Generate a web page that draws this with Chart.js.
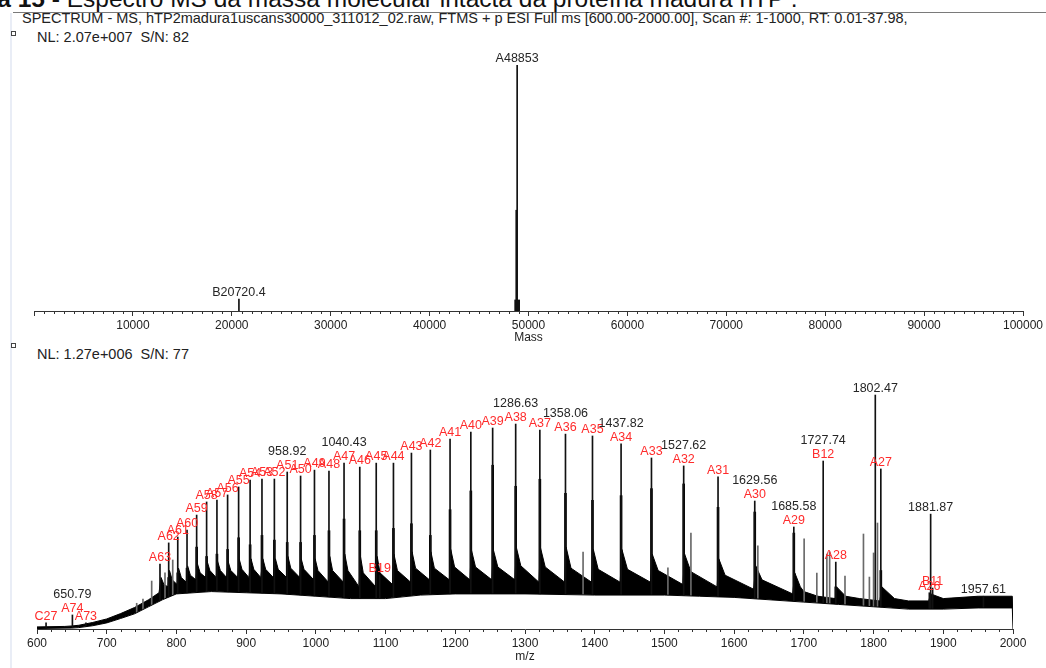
<!DOCTYPE html>
<html>
<head>
<meta charset="utf-8">
<script src="https://cdn.jsdelivr.net/npm/chart.js@4/dist/chart.umd.min.js"></script>
<style>
  body { margin: 0; width: 1046px; height: 668px; overflow: hidden; background: #fff; position: relative;
         font-family: "Liberation Sans", Arial, sans-serif; color: #222; }
  .txt { position: absolute; white-space: nowrap; font-size: 14.5px; line-height: 16px; }
  #fig { position: absolute; left: -64px; top: -14px; font-size: 24.5px; line-height: 25px; white-space: nowrap; color: #111; }
  .box { position: absolute; width: 3px; height: 3px; border: 1px solid #444; }
  canvas { position: absolute; left: 0; }
</style>
</head>
<body>
<div id="fig"><b>Figura 15 -</b> Espectro MS da massa molecular intacta da proteína madura hTP .</div>
<div style="position:absolute;left:13px;top:12px;width:1033px;height:1px;background:#7a7a7a"></div>
<div style="position:absolute;left:10px;top:13px;width:2px;height:655px;background:#e9edf6"></div>
<div class="txt" style="left:22px;top:10px">SPECTRUM - MS, hTP2madura1uscans30000_311012_02.raw, FTMS + p ESI Full ms [600.00-2000.00], Scan #: 1-1000, RT: 0.01-37.98,</div>
<div class="box" style="left:11px;top:31px"></div>
<div class="txt" style="left:37px;top:29px">NL: 2.07e+007&nbsp; S/N: 82</div>
<div class="box" style="left:11px;top:343px"></div>
<div class="txt" style="left:37px;top:346px">NL: 1.27e+006&nbsp; S/N: 77</div>

<canvas id="deconv" width="1046" height="310" style="top:40px;width:1046px;height:310px"></canvas>
<canvas id="spectrum" width="1046" height="308" style="top:360px;width:1046px;height:308px"></canvas>

<script>
// ---- deconvoluted mass spectrum (top) ----
var massX = [20720.4, 48760, 48853];
var massInt = [4.9, 41, 100];
var massLabel = ['B20720.4', '', 'A48853'];
var massCoreX = [48853];
var massCoreInt = [4.5];

// ---- m/z spectrum (bottom), relative intensity ----
var peakMz = [613, 650.79, 670.2, 776.4, 788.9, 801.9, 815.2, 829.0, 843.3, 858.1, 873.4, 889.2,
  905.7, 922.7, 940.5, 958.92, 978.1, 998.0, 1018.8, 1040.43, 1063.0, 1086.6, 1091.6, 1111.3,
  1137.1, 1164.2, 1192.5, 1222.3, 1253.6, 1286.63, 1321.3, 1358.06, 1396.8, 1437.82, 1481.4,
  1527.62, 1576.9, 1629.56, 1685.58, 1727.74, 1745.8, 1802.47, 1810.4, 1880.0, 1881.87, 1884.7, 1957.61];
var peakTop = [2.6, 6.0, 2.6, 27.8, 36.8, 39.3, 42.3, 48.7, 54.3, 55.1, 57.3, 60.7,
  63.7, 64.1, 64.1, 67.1, 65.4, 67.9, 67.5, 70.9, 69.2, 70.9, 23, 70.9,
  75.2, 76.5, 81.2, 84.2, 85.9, 87.6, 85.0, 83.3, 82.5, 79.1, 73.1,
  69.7, 65.0, 54.7, 43.6, 71.8, 28.6, 100, 68.4, 15.5, 49.1, 17.5, 14];
var peakCore = [0, 0, 0, 15, 22, 24, 26, 35, 31, 32, 34, 39,
  36, 40, 38, 37, 37, 40, 42, 47, 42, 42, 0, 43,
  45, 40, 51, 59, 70, 61, 64, 58, 55, 57, 60,
  62, 52, 50, 41, 0, 18, 0, 25, 0, 0, 0, 0];
var peakName = ['C27', 'A74', 'A73', 'A63', 'A62', 'A61', 'A60', 'A59', 'A58', 'A57', 'A56', 'A55',
  'A54', 'A53', 'A52', 'A51', 'A50', 'A49', 'A48', 'A47', 'A46', 'A45', 'B19', 'A44',
  'A43', 'A42', 'A41', 'A40', 'A39', 'A38', 'A37', 'A36', 'A35', 'A34', 'A33',
  'A32', 'A31', 'A30', 'A29', 'B12', 'A28', '', 'A27', 'A26', '', 'B11', ''];
var peakMass = ['', '650.79', '', '', '', '', '', '', '', '', '', '',
  '', '', '', '958.92', '', '', '', '1040.43', '', '', '', '',
  '', '', '', '', '', '1286.63', '', '1358.06', '', '1437.82', '',
  '1527.62', '', '1629.56', '1685.58', '1727.74', '', '1802.47', '', '', '1881.87', '', '1957.61'];

var minorMz = [743, 752, 764.5, 783.6, 794.7, 1383.3, 1505, 1538, 1634, 1700.4, 1718.6, 1733, 1737,
  1759, 1785.5, 1794, 1800, 1805.6];
var minorTop = [11, 12.8, 20.5, 24, 29.5, 32.9, 26.1, 41, 35.5, 38.5, 23.9, 32, 33,
  22.6, 40.6, 22.2, 32.5, 45.3];

// upper edge of the noise band (valley before a peak, foot of the peak, end of its tail)
var noiseHighMz = [600, 640, 650, 660, 680, 700, 720, 740, 760,
  775, 778, 782, 788, 790, 794, 801, 803, 807, 814, 816, 820, 828, 830, 834, 842, 844, 848,
  857, 859, 863, 872, 874, 878, 888, 890, 894, 904, 907, 911, 921, 924, 928, 939, 942, 946,
  958, 960, 964, 977, 979, 983, 997, 999, 1003, 1018, 1020, 1024, 1039.5, 1041.5, 1046,
  1062, 1064, 1068, 1086, 1088, 1092, 1110, 1112, 1117, 1136, 1138, 1143, 1163, 1165, 1170,
  1191.5, 1193.5, 1199, 1221, 1223, 1229, 1252.5, 1254.5, 1261, 1285.5, 1287.5, 1294,
  1320, 1322, 1329, 1357, 1359, 1366, 1395.5, 1398, 1405, 1436.5, 1439, 1447, 1480, 1482.5, 1491,
  1526.5, 1529, 1538, 1575.5, 1578, 1587, 1628, 1631, 1640, 1684, 1687, 1695,
  1700, 1720, 1745, 1747, 1760, 1780, 1809, 1812, 1830, 1850, 1879, 1882, 1900, 1950, 1999, 2000];
var noiseHigh = [0.9, 1.1, 1.3, 1.6, 2.8, 4.3, 6.6, 9.2, 12.5,
  15.5, 22, 19, 18, 25, 21, 19, 26, 22, 20, 27, 23, 21, 28, 24, 22, 29, 25,
  22, 29, 25, 22, 29, 25, 22, 30, 25.5, 22, 30, 25.5, 22, 30, 25.5, 22, 30, 25.5,
  22, 31, 26, 22, 30, 25.5, 21, 30, 25, 20, 31, 25, 20, 32, 25,
  18, 31, 24, 18, 31, 24, 19, 32, 25, 20, 33, 26, 21, 33, 26,
  21, 34, 26.5, 21, 34, 26.5, 21, 34, 26.5, 21, 35, 27,
  20, 35, 26.5, 20, 35, 26, 20, 34, 25.5, 20, 34, 25.5, 20, 32, 25,
  19, 32, 24.5, 18, 30, 23, 17, 27, 21, 15, 24, 18,
  16, 14, 13, 18, 14, 13, 12, 18, 13, 12, 12, 15, 13, 14, 14, 0];
// lower edge of the noise band
var noiseLowMz = [600, 650, 660, 680, 700, 720, 740, 760, 780, 800, 850, 900, 950, 1000, 1050, 1100,
  1150, 1200, 1250, 1300, 1400, 1500, 1550, 1600, 1650, 1700, 1750, 1800, 1850, 1900, 1950, 1999, 2000];
var noiseLow = [0.2, 0.4, 0.6, 1.4, 2.6, 4.5, 6.5, 9.5, 12.5, 15, 16, 15.5, 15, 14, 13, 13,
  14.5, 15, 15, 15, 14.5, 14.5, 14, 13.5, 12.5, 11.5, 10.5, 9.5, 8.5, 8.5, 9, 9, 0];

var axisColor = '#333';
var labelFont = '12.5px "Liberation Sans", Arial, sans-serif';

Chart.defaults.font.family = '"Liberation Sans", Arial, sans-serif';
Chart.defaults.font.size = 12;
Chart.defaults.color = '#222';

function pts(xs, ys) {
  return xs.map(function (x, i) { return { x: x, y: ys[i] }; });
}

// red/black peak annotations
function labelPlugin(mz, top, names, masses) {
  return {
    id: 'peakLabels',
    afterDatasetsDraw: function (chart) {
      var ctx = chart.ctx, xs = chart.scales.x, ys = chart.scales.y;
      ctx.save();
      ctx.font = labelFont;
      ctx.textAlign = 'center';
      ctx.textBaseline = 'alphabetic';
      mz.forEach(function (m, i) {
        var px = xs.getPixelForValue(m);
        var py = ys.getPixelForValue(top[i]) - 3;
        if (names && names[i]) {
          ctx.fillStyle = '#ff2b2b';
          ctx.fillText(names[i], px, py);
          py -= 14;
        }
        if (masses[i]) {
          ctx.fillStyle = '#262626';
          ctx.fillText(masses[i], px, py);
        }
      });
      ctx.restore();
    }
  };
}

// short minor ticks between the labelled ones
function minorTicks(step, major) {
  return {
    id: 'minorTicks',
    afterDraw: function (chart) {
      var s = chart.scales.x, ctx = chart.ctx;
      ctx.save();
      ctx.strokeStyle = axisColor;
      ctx.lineWidth = 1;
      ctx.beginPath();
      for (var v = s.min; v <= s.max; v += step) {
        if (v % major === 0) continue;
        var px = Math.round(s.getPixelForValue(v)) + 0.5;
        ctx.moveTo(px, s.top);
        ctx.lineTo(px, s.top + 3);
      }
      ctx.stroke();
      ctx.restore();
    }
  };
}

function xAxis(min, max, step, title, titlePad) {
  return {
    type: 'linear', min: min, max: max, offset: false,
    afterFit: function (scale) { scale.height = 39; },
    border: { display: true, color: axisColor, width: 1 },
    grid: { display: true, offset: false, drawOnChartArea: false, drawTicks: true, tickLength: 5, color: axisColor },
    ticks: {
      stepSize: step, autoSkip: false, maxRotation: 0, padding: 2, color: '#222',
      font: { size: 12 },
      callback: function (v) { return v === 0 ? '' : String(v); }
    },
    title: { display: true, text: title, color: '#222', font: { size: 12 }, padding: { top: 0, bottom: titlePad } }
  };
}

new Chart(document.getElementById('deconv'), {
  type: 'bar',
  data: {
    datasets: [
      { data: pts(massCoreX, massCoreInt), backgroundColor: '#111', barThickness: 5, grouped: false, order: 2 },
      { data: pts(massX, massInt), backgroundColor: '#111', barThickness: 1, grouped: false, order: 1 }
    ]
  },
  options: {
    responsive: false, animation: false, devicePixelRatio: 1,
    layout: { padding: { left: 34, right: 23, top: 8, bottom: 0 } },
    plugins: { legend: { display: false }, tooltip: { enabled: false } },
    scales: {
      x: xAxis(0, 100000, 10000, 'Mass', 5),
      y: { display: false, min: 0, max: 107 }
    }
  },
  plugins: [labelPlugin(massX, massInt, null, massLabel), minorTicks(1000, 10000)]
});

new Chart(document.getElementById('spectrum'), {
  type: 'bar',
  data: {
    datasets: [
      { type: 'line', data: pts(noiseHighMz, noiseHigh), borderColor: '#000', backgroundColor: '#000',
        borderWidth: 1, pointRadius: 0, fill: '+1', tension: 0, order: 4 },
      // lower edge; white below it so that the sticks start at the noise band
      { type: 'line', data: pts(noiseLowMz, noiseLow), borderColor: '#000', backgroundColor: '#fff',
        borderWidth: 1, pointRadius: 0, fill: 'origin', tension: 0, order: 0 },
      { data: pts(minorMz, minorTop), backgroundColor: '#6a6a6a', barThickness: 1, grouped: false, order: 3 },
      { data: pts(peakMz, peakCore), backgroundColor: '#000', barThickness: 2, grouped: false, order: 2 },
      { data: pts(peakMz, peakTop), backgroundColor: '#111', barThickness: 1, grouped: false, order: 1 }
    ]
  },
  options: {
    responsive: false, animation: false, devicePixelRatio: 1,
    layout: { padding: { left: 37, right: 33, top: 10, bottom: 0 } },
    plugins: { legend: { display: false }, tooltip: { enabled: false } },
    scales: {
      x: xAxis(600, 2000, 100, 'm/z', 4),
      y: { display: false, min: 0, max: 110.7 }
    }
  },
  plugins: [labelPlugin(peakMz, peakTop, peakName, peakMass), minorTicks(20, 100)]
});
</script>
</body>
</html>
